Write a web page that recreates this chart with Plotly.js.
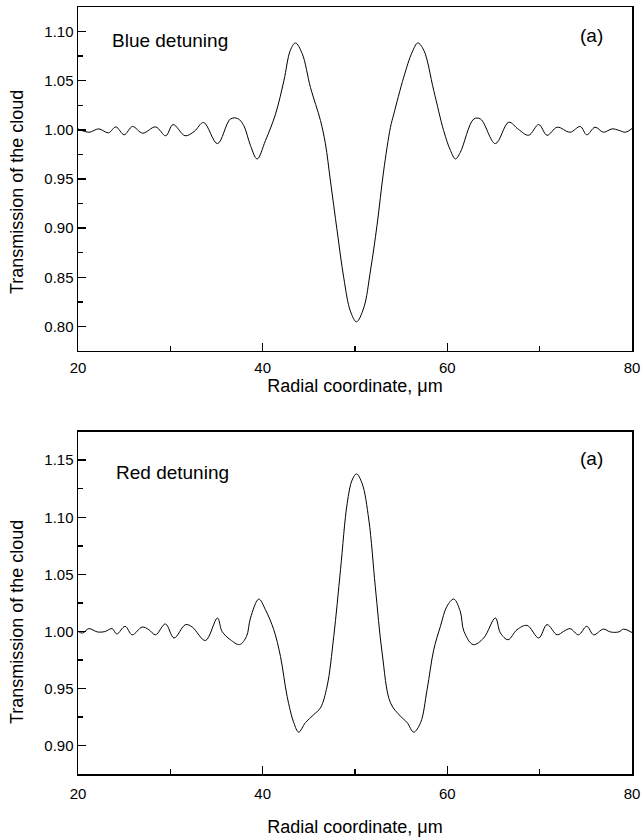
<!DOCTYPE html>
<html>
<head>
<meta charset="utf-8">
<script src="https://cdn.plot.ly/plotly-3.0.1.min.js"></script>
<style>html,body{margin:0;padding:0;background:#fff;}#chart{width:642px;height:837px;}</style>
</head>
<body>
<div id="chart"></div>
<script>
// Blue detuning (top panel)
const blueX = [20.0,21.17,22.25,23.3,24.1,25.0,25.9,27.0,28.4,29.5,30.3,31.6,32.6,33.6,35.1,36.5,37.3,37.95,38.68,39.4,40.3,41.39,42.3,43.0,43.55,44.28,45.18,46.26,46.8,47.34,48.07,48.78,49.5,50.16,50.95,51.67,52.4,53.1,53.84,54.2,55.28,56.19,56.8,57.45,58.53,59.6,60.34,60.88,61.4,62.86,63.6,65.2,66.65,67.7,68.8,69.9,70.8,71.9,73.3,74.4,75.1,76.0,76.9,77.85,78.6,79.3,80.0];
const blueY = [1.001,0.9975,1.001,0.997,1.003,0.995,1.0034,0.9966,1.003,0.994,1.0054,0.994,0.9985,1.0075,0.986,1.011,1.0115,1.0044,0.984,0.9704,0.989,1.016,1.050,1.081,1.0884,1.0776,1.043,1.0095,0.9857,0.948,0.897,0.8496,0.8156,0.8047,0.819,0.8564,0.904,0.958,1.0027,1.016,1.0537,1.079,1.0884,1.081,1.040,0.9993,0.979,0.9704,0.977,1.011,1.011,0.986,1.0078,1.0005,0.9945,1.0054,0.9945,1.0027,0.9976,1.0034,0.995,1.0027,0.9976,1.001,0.9995,0.9976,1.0013];

// Red detuning (bottom panel)
const redX = [20.0,20.5,21.17,22.1,22.9,23.7,24.2,25.1,25.87,26.95,27.67,28.4,29.47,30.4,31.64,32.37,33.8,35.1,35.6,36.5,37.5,38.25,38.68,39.58,40.3,41.2,41.93,42.65,43.37,43.9,44.63,45.53,46.26,46.98,47.7,48.43,49.15,49.69,50.16,50.77,51.5,52.2,52.94,53.84,54.92,55.65,56.36,57.1,57.81,58.53,59.25,59.96,60.7,61.4,61.8,62.8,63.94,65.2,65.75,66.58,67.55,68.64,69.9,70.8,71.89,72.6,73.3,74.2,75.1,75.85,76.9,77.66,78.56,79.1,80.0];
const redY = [1.000,0.9985,1.0024,0.9995,0.9998,1.0024,0.9977,1.0044,0.997,1.0038,1.0015,0.997,1.0065,0.9942,1.0059,1.0038,0.992,1.0117,1.0,0.9927,0.9884,0.9956,1.0117,1.0283,1.019,1.0015,0.978,0.943,0.920,0.9117,0.920,0.927,0.933,0.952,0.9956,1.054,1.112,1.1326,1.138,1.1297,1.0976,1.039,0.981,0.9374,0.9257,0.920,0.9117,0.920,0.949,0.984,1.0044,1.022,1.0283,1.0175,1.000,0.9884,0.9942,1.0117,0.9986,0.9927,1.0015,1.0052,0.9942,1.0059,0.997,1.000,1.0024,0.997,1.0044,0.997,1.002,0.9995,0.9995,1.002,0.999];

const xTickVals = [20,40,60,80];
const blueYTicks = [0.80,0.85,0.90,0.95,1.00,1.05,1.10];
const redYTicks = [0.90,0.95,1.00,1.05,1.10,1.15];

const FONT = "'Liberation Sans', Arial, sans-serif";
const lineStyle = {color:'#000', width:1, shape:'spline', smoothing:1};

const traces = [
  {x: blueX, y: blueY, xaxis:'x', yaxis:'y', mode:'lines', line: lineStyle, hoverinfo:'skip'},
  {x: redX, y: redY, xaxis:'x2', yaxis:'y2', mode:'lines', line: lineStyle, hoverinfo:'skip'}
];

function xAx(anchor, labelStandoff, titleStandoff){
  return {
    anchor: anchor, domain:[0,1], range:[20,80],
    tickvals: xTickVals, ticktext: xTickVals.map(String),
    ticks:'inside', ticklen:8, tickwidth:1.5, tickcolor:'#000',
    minor:{ticks:'inside', ticklen:5, tickwidth:1.5, dtick:10, tick0:0, tickcolor:'#000'},
    showline:true, linecolor:'#000', linewidth:1.5, mirror:true,
    showgrid:false, zeroline:false,
    ticklabelstandoff: labelStandoff,
    tickfont:{family:FONT, size:15, color:'#000'},
    title:{text:'Radial coordinate, μm', font:{family:FONT, size:18, color:'#000'}, standoff:titleStandoff}
  };
}
function yAx(anchor, domain, range, ticks){
  return {
    anchor: anchor, domain: domain, range: range,
    tickvals: ticks, ticktext: ticks.map(v => v.toFixed(2)),
    ticks:'inside', ticklen:8, tickwidth:1.5, tickcolor:'#000',
    minor:{ticks:'inside', ticklen:5, tickwidth:1.5, dtick:0.025, tick0:0, tickcolor:'#000'},
    showline:true, linecolor:'#000', linewidth:1.5, mirror:true,
    showgrid:false, zeroline:false,
    tickfont:{family:FONT, size:15, color:'#000'}
  };
}

const titleFont = {family:FONT, size:18, color:'#000'};
const layout = {
  width:642, height:837,
  margin:{l:78, r:10, t:7, b:63},
  paper_bgcolor:'#fff', plot_bgcolor:'#fff',
  showlegend:false,
  xaxis: xAx('y', 3, 1),
  yaxis: yAx('x', [0.5515,1], [0.775,1.125], blueYTicks),
  xaxis2: xAx('y2', 5, 20),
  yaxis2: yAx('x2', [0,0.4463], [0.875,1.175], redYTicks),
  annotations:[
    {xref:'paper', yref:'paper', x:-0.11, y:0.7588, text:'Transmission of the cloud', textangle:-90, showarrow:false, xanchor:'center', yanchor:'middle', font:titleFont},
    {xref:'paper', yref:'paper', x:-0.11, y:0.1982, text:'Transmission of the cloud', textangle:-90, showarrow:false, xanchor:'center', yanchor:'middle', font:titleFont},
    {xref:'x', yref:'y', x:23.5, y:1.091, text:'Blue detuning', showarrow:false, xanchor:'left', yanchor:'middle', font:{family:FONT, size:19, color:'#000'}},
    {xref:'x', yref:'y', x:77.1, y:1.096, text:'(a)', showarrow:false, xanchor:'right', yanchor:'middle', font:{family:FONT, size:19, color:'#000'}},
    {xref:'x2', yref:'y2', x:23.85, y:1.1396, text:'Red detuning', showarrow:false, xanchor:'left', yanchor:'middle', font:{family:FONT, size:19, color:'#000'}},
    {xref:'x2', yref:'y2', x:77.1, y:1.1518, text:'(a)', showarrow:false, xanchor:'right', yanchor:'middle', font:{family:FONT, size:19, color:'#000'}}
  ]
};

Plotly.newPlot('chart', traces, layout, {staticPlot:true, displayModeBar:false});
</script>
</body>
</html>
